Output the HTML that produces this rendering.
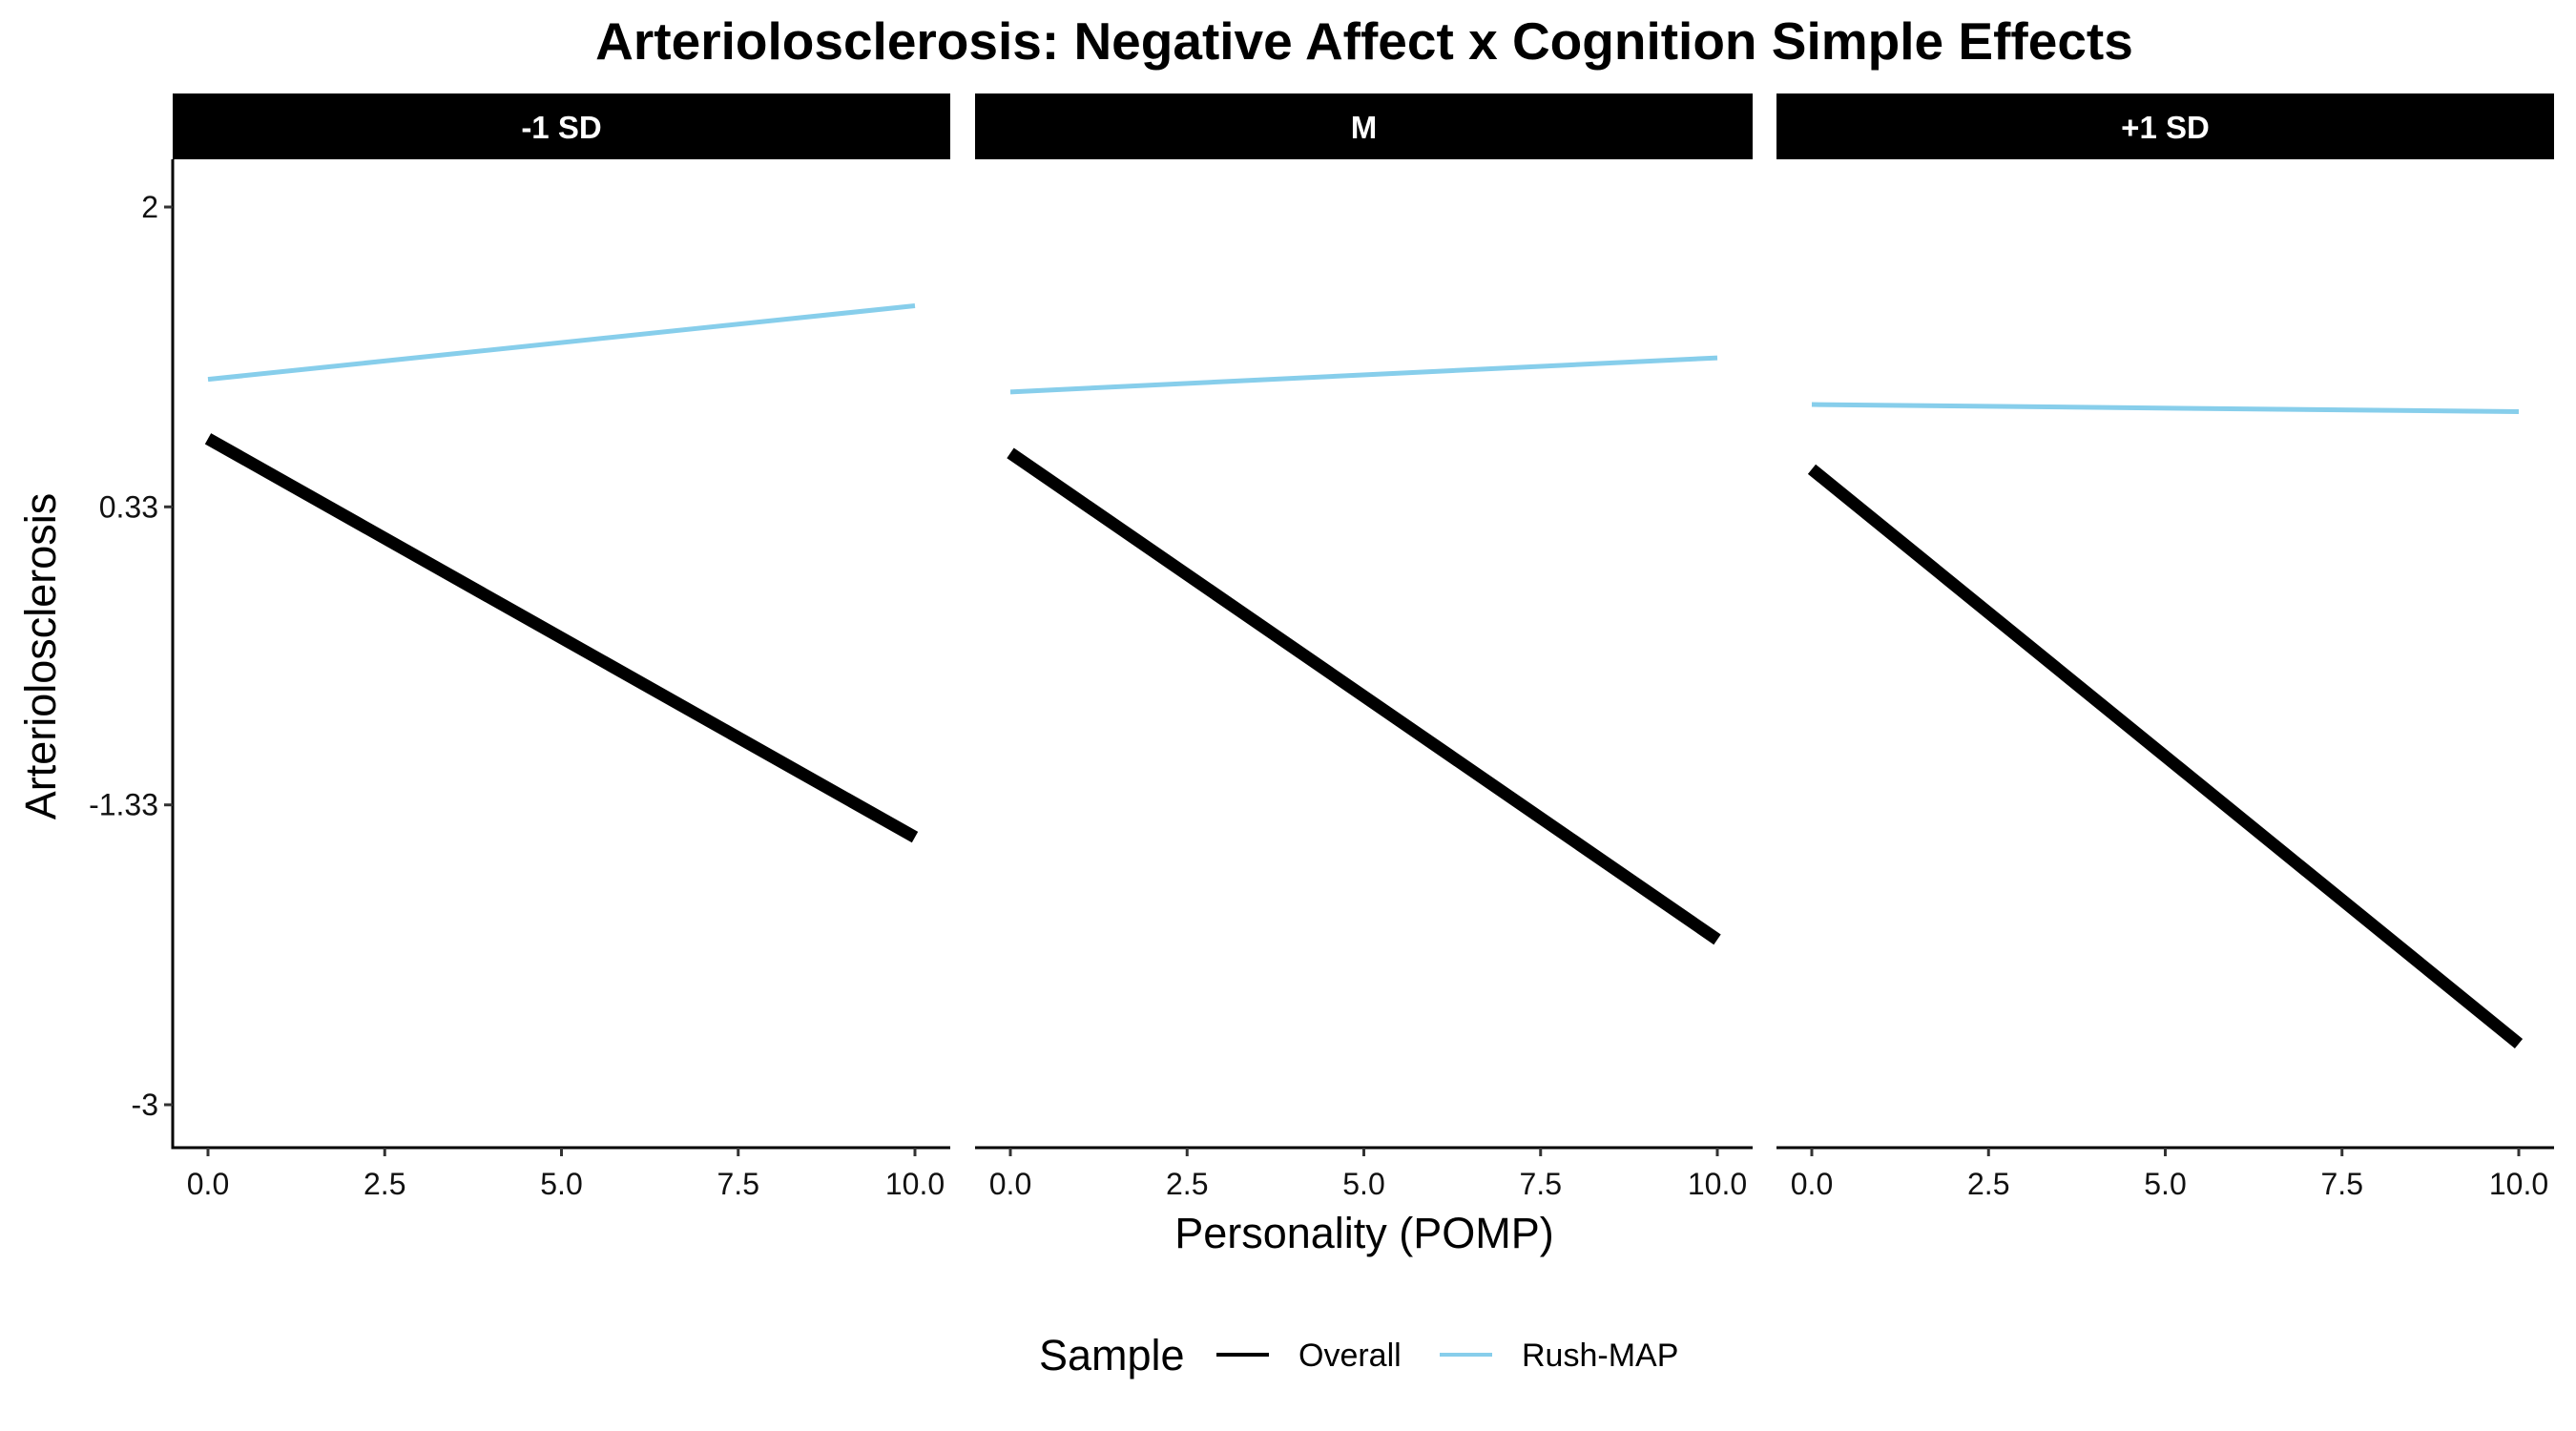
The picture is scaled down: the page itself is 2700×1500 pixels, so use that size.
<!DOCTYPE html>
<html><head><meta charset="utf-8"><style>
body{margin:0;background:#fff;}
svg{display:block;font-family:"Liberation Sans",sans-serif;}
</style></head><body>
<svg id="chart" width="2700" height="1500" xmlns="http://www.w3.org/2000/svg">
<text x="1430" y="62" text-anchor="middle" font-size="55" font-weight="bold">Arteriolosclerosis: Negative Affect x Cognition Simple Effects</text>
<g id="panels"></g>
<text x="1430" y="1308" text-anchor="middle" font-size="45">Personality (POMP)</text>
<text transform="translate(58,688) rotate(-90)" text-anchor="middle" font-size="45">Arteriolosclerosis</text>
<g>
<text x="1089" y="1436" font-size="45">Sample</text>
<line x1="1275" y1="1420" x2="1330" y2="1420" stroke="#000" stroke-width="4"/>
<text x="1361" y="1432" font-size="34">Overall</text>
<line x1="1509" y1="1420" x2="1564" y2="1420" stroke="#87CEEB" stroke-width="4"/>
<text x="1595" y="1432" font-size="34">Rush-MAP</text>
</g>
</svg>
<script>
const panelLabels = ["-1 SD", "M", "+1 SD"];
const xValues = [0, 10];
const overallStart = [0.71, 0.63, 0.54];
const overallEnd = [-1.51, -2.08, -2.66];
const rushStart = [1.04, 0.97, 0.90];
const rushEnd = [1.45, 1.16, 0.86];
const xTicks = [0, 2.5, 5, 7.5, 10];
const xTickLabels = ["0.0", "2.5", "5.0", "7.5", "10.0"];
const yTicks = [2, 0.33, -1.33, -3];
const yTickLabels = ["2", "0.33", "-1.33", "-3"];

const NS = "http://www.w3.org/2000/svg";
const panelsG = document.getElementById("panels");
const panelLeft = [181, 1022, 1862];
const panelW = 815, plotTop = 167, plotBottom = 1203;
const yScale = v => 217 + (2 - v) * 188.2;
function mk(tag, attrs, parent){const e=document.createElementNS(NS,tag);for(const k in attrs)e.setAttribute(k,attrs[k]);parent.appendChild(e);return e;}

panelLabels.forEach((lab, i) => {
  const L = panelLeft[i];
  const xScale = v => L + 37 + v * 74.1;
  const g = mk("g", {}, panelsG);
  
  
  const strip = mk("rect", {x:L, y:98, width:panelW, height:69, fill:"#000"}, g);
  
  
  const st = mk("text", {x:L+panelW/2, y:145, "text-anchor":"middle", "font-size":33, "font-weight":"bold", fill:"#fff"}, g);
  st.textContent = lab;
  
  
  const xa = mk("line", {x1:L, y1:plotBottom, x2:L+panelW, y2:plotBottom, stroke:"#000", "stroke-width":3}, g);
  
  
  xTicks.forEach((t, j) => {
    const tk = mk("line", {x1:xScale(t), y1:plotBottom, x2:xScale(t), y2:plotBottom+9, stroke:"#333", "stroke-width":3}, g);
    
    
    const tl = mk("text", {x:xScale(t), y:1252, "text-anchor":"middle", "font-size":32, fill:"#111"}, g);
    tl.textContent = xTickLabels[j];
    
    
  });
  if (i === 0) {
    const ya = mk("line", {x1:L, y1:plotTop, x2:L, y2:plotBottom+1.5, stroke:"#000", "stroke-width":3}, g);
    
    
    yTicks.forEach((t, j) => {
      const tk = mk("line", {x1:L-9, y1:yScale(t), x2:L, y2:yScale(t), stroke:"#333", "stroke-width":3}, g);
      
      
      const tl = mk("text", {x:L-15, y:yScale(t)+11, "text-anchor":"end", "font-size":32, fill:"#111"}, g);
      tl.textContent = yTickLabels[j];
      
      
    });
  }
  const rl = mk("line", {x1:xScale(xValues[0]), y1:yScale(rushStart[i]), x2:xScale(xValues[1]), y2:yScale(rushEnd[i]), stroke:"#87CEEB", "stroke-width":5}, g);
  
  
  const ol = mk("line", {x1:xScale(xValues[0]), y1:yScale(overallStart[i]), x2:xScale(xValues[1]), y2:yScale(overallEnd[i]), stroke:"#000", "stroke-width":13}, g);
  
  
});
</script>
</body></html>
